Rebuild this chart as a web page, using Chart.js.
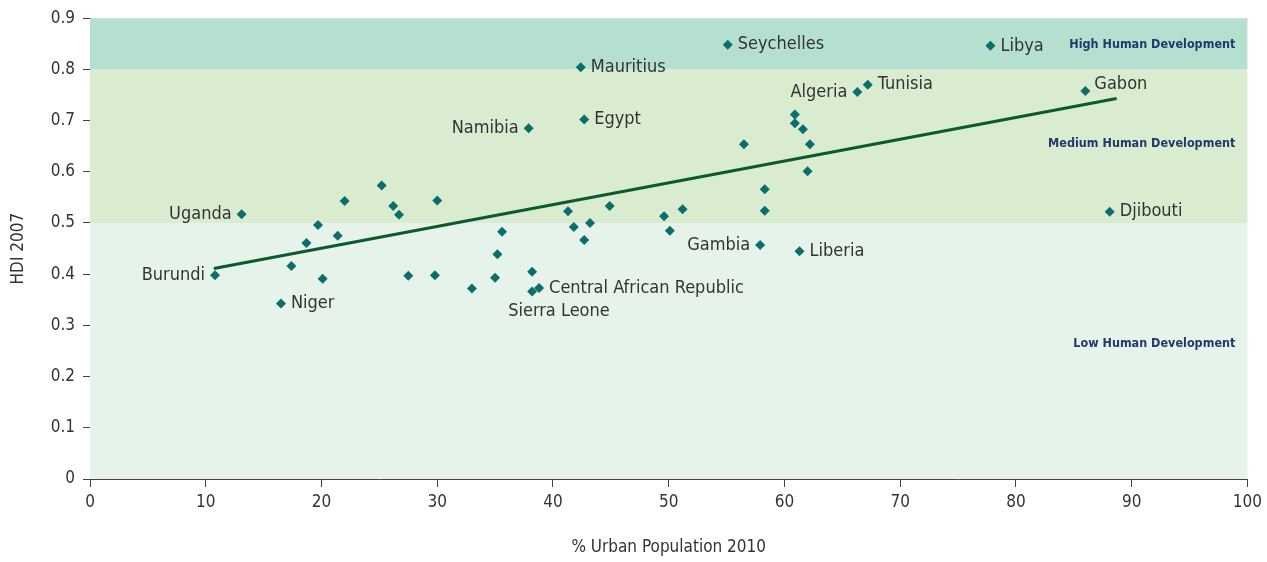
<!DOCTYPE html>
<html>
<head>
<meta charset="utf-8">
<script src="https://cdn.jsdelivr.net/npm/chart.js@4/dist/chart.umd.min.js"></script>
<style>
  html, body { margin: 0; padding: 0; background: #ffffff; }
  #wrap { width: 1267px; height: 562px; position: relative; }
</style>
</head>
<body>
<div id="wrap"><canvas id="chart"></canvas></div>
<script>

// Countries (empty name = unlabelled point)
const countryNames = [
    'Uganda', 'Burundi', 'Niger', '', '', '', '', '', '', '', '', '', '', '', '',
    '', '', '', '', '', '', '', '', '', '', '', '', '', '', '',
    'Gambia', 'Liberia', '', 'Seychelles', 'Mauritius', 'Egypt', 'Namibia', 'Algeria', 'Tunisia',
    '', '', '', '', '', 'Libya', 'Gabon', 'Djibouti', 'Central African Republic', 'Sierra Leone'
];

// % Urban Population 2010
const urbanPop = [
    13.1, 10.8, 16.5, 25.2, 22.0, 30.0, 26.2, 26.7, 19.7, 21.4, 18.7, 17.4, 20.1, 27.5, 29.8,
    33.0, 35.6, 35.2, 35.0, 38.2, 41.3, 41.8, 43.2, 42.7, 44.9, 49.6, 50.1, 51.2, 58.3, 58.3,
    57.9, 61.3, 62.0, 55.1, 42.4, 42.7, 37.9, 66.3, 67.2,
    60.9, 60.9, 61.6, 56.5, 62.2, 77.8, 86.0, 88.1, 38.8, 38.2
];

// HDI 2007
const hdiValues = [
    0.517, 0.398, 0.343, 0.573, 0.543, 0.544, 0.533, 0.516, 0.496, 0.475, 0.461, 0.416, 0.391, 0.397, 0.398,
    0.372, 0.483, 0.439, 0.393, 0.405, 0.523, 0.492, 0.500, 0.467, 0.533, 0.513, 0.485, 0.527, 0.566, 0.524,
    0.457, 0.445, 0.601, 0.848, 0.804, 0.702, 0.685, 0.756, 0.770,
    0.712, 0.695, 0.683, 0.654, 0.654, 0.846, 0.758, 0.522, 0.373, 0.366
];

// Trend line end points
const trendX = [10.7, 88.7];
const trendY = [0.411, 0.743];

// Development bands
const bandNames = ['Low Human Development', 'Medium Human Development', 'High Human Development'];
const bandFrom = [0, 0.5, 0.8];
const bandTo = [0.5, 0.8, 0.9];
const bandLabelY = [0.265, 0.655, 0.848];
const bandColors = ['#e6f3ea', '#d9ecd0', '#b5e0cf'];

// Label sides
const labelSide = {
    'Uganda': 'left', 'Burundi': 'left', 'Niger': 'right', 'Namibia': 'left', 'Mauritius': 'right',
    'Egypt': 'right', 'Seychelles': 'right', 'Libya': 'right', 'Algeria': 'left', 'Tunisia': 'right',
    'Gabon': 'upright', 'Djibouti': 'right', 'Gambia': 'left', 'Liberia': 'right',
    'Central African Republic': 'right', 'Sierra Leone': 'below'
};

const condensed = '"Liberation Sans Narrow", "DejaVu Sans Condensed", Arial, sans-serif';

// Scatter points
const points = [];
for (let i = 0; i < urbanPop.length; i++) {
    points.push({ x: urbanPop[i], y: hdiValues[i] });
}

// Bands plugin
const bandsPlugin = {
    id: 'bands',
    beforeDatasetsDraw(chart) {
        const { ctx, chartArea, scales } = chart;
        ctx.save();
        for (let i = 0; i < bandFrom.length; i++) {
            const top = scales.y.getPixelForValue(bandTo[i]);
            const bottom = scales.y.getPixelForValue(bandFrom[i]);
            ctx.fillStyle = bandColors[i];
            ctx.fillRect(chartArea.left, top, chartArea.right - chartArea.left, bottom - top);
        }
        ctx.font = 'bold 12.5px ' + condensed;
        ctx.fillStyle = '#1f3a6b';
        ctx.textAlign = 'right';
        ctx.textBaseline = 'middle';
        for (let i = 0; i < bandNames.length; i++) {
            ctx.fillText(bandNames[i], chartArea.right - 12, scales.y.getPixelForValue(bandLabelY[i]));
        }
        ctx.restore();
    }
};

// Country labels plugin
const labelsPlugin = {
    id: 'countryLabels',
    afterDatasetsDraw(chart) {
        const { ctx, scales } = chart;
        ctx.save();
        ctx.font = '18px ' + condensed;
        ctx.fillStyle = '#333333';
        ctx.textBaseline = 'middle';
        for (let i = 0; i < countryNames.length; i++) {
            const name = countryNames[i];
            if (!name) { continue; }
            const px = scales.x.getPixelForValue(urbanPop[i]);
            const py = scales.y.getPixelForValue(hdiValues[i]);
            const side = labelSide[name];
            if (side === 'left') {
                ctx.textAlign = 'right';
                ctx.fillText(name, px - 10, py);
            } else if (side === 'below') {
                ctx.textAlign = 'left';
                ctx.fillText(name, px - 24, py + 20);
            } else if (side === 'upright') {
                ctx.textAlign = 'left';
                ctx.fillText(name, px + 9, py - 7);
            } else {
                ctx.textAlign = 'left';
                ctx.fillText(name, px + 10, py);
            }
        }
        ctx.restore();
    }
};

// Create Chart
const ctx = document.getElementById('chart').getContext('2d');
new Chart(ctx, {
    type: 'scatter',
    data: {
        datasets: [
            {
                label: 'Countries',
                data: points,
                pointStyle: 'rectRot',
                pointRadius: 5,
                pointBorderWidth: 0,
                backgroundColor: '#0b6e6c',
                borderColor: '#0b6e6c'
            },
            {
                label: 'Trend',
                type: 'line',
                data: [{ x: trendX[0], y: trendY[0] }, { x: trendX[1], y: trendY[1] }],
                borderColor: '#0b5a2e',
                borderWidth: 3,
                pointRadius: 0,
                fill: false
            }
        ]
    },
    options: {
        responsive: true,
        maintainAspectRatio: false,
        animation: false,
        layout: { padding: { left: 8, right: 19, top: 12, bottom: 0 } },
        plugins: {
            legend: { display: false },
            tooltip: { enabled: false }
        },
        scales: {
            x: {
                type: 'linear',
                min: 0,
                max: 100,
                afterFit: function (scale) { scale.height = 83; },
                ticks: { stepSize: 10, color: '#333333', font: { family: condensed, size: 17 }, padding: 5 },
                grid: { drawOnChartArea: false, drawTicks: true, tickLength: 8, color: '#444444' },
                border: { color: '#444444', width: 1 },
                title: { display: true, text: '% Urban Population 2010', color: '#333333', font: { family: condensed, size: 17 }, padding: { top: 26 } }
            },
            y: {
                type: 'linear',
                min: 0,
                max: 0.9,
                afterFit: function (scale) { scale.width = 82; },
                ticks: { stepSize: 0.1, color: '#333333', font: { family: condensed, size: 17 }, padding: 8,
                    callback: function (v) { return Math.round(v * 10) / 10; } },
                grid: { drawOnChartArea: false, drawTicks: true, tickLength: 7, color: '#444444' },
                border: { color: '#444444', width: 1 },
                title: { display: true, text: 'HDI 2007', color: '#333333', font: { family: condensed, size: 17 }, padding: 0 }
            }
        }
    },
    plugins: [bandsPlugin, labelsPlugin]
});

</script>
</body>
</html>
